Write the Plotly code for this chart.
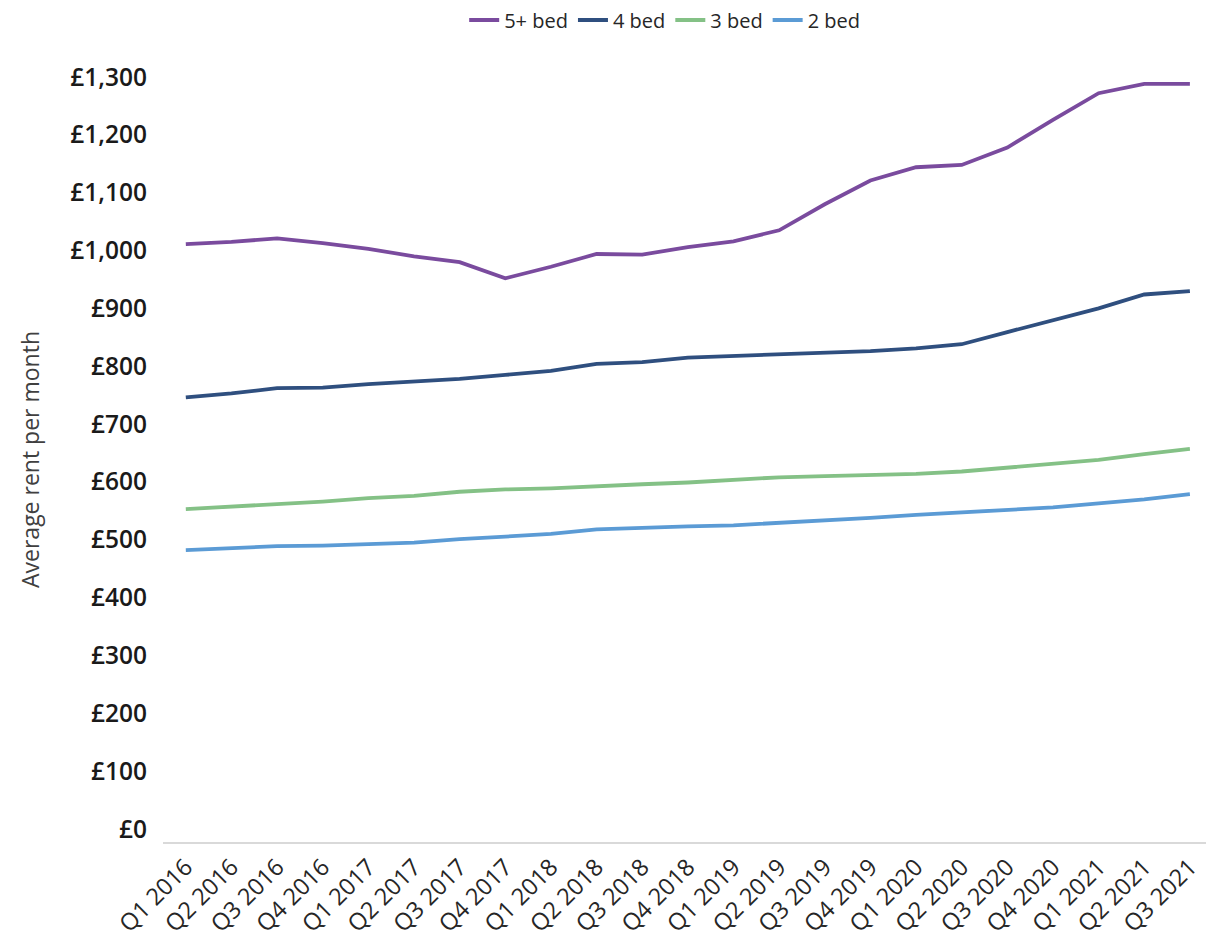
import plotly.graph_objects as go

quarters = ["Q1 2016", "Q2 2016", "Q3 2016", "Q4 2016",
            "Q1 2017", "Q2 2017", "Q3 2017", "Q4 2017",
            "Q1 2018", "Q2 2018", "Q3 2018", "Q4 2018",
            "Q1 2019", "Q2 2019", "Q3 2019", "Q4 2019",
            "Q1 2020", "Q2 2020", "Q3 2020", "Q4 2020",
            "Q1 2021", "Q2 2021", "Q3 2021"]

bed5 = [1011, 1015, 1021, 1013, 1003, 990, 980, 952, 972, 994, 993, 1006,
        1016, 1035, 1080, 1121, 1144, 1148, 1178, 1226, 1272, 1288, 1288]
bed4 = [746, 753, 762, 763, 769, 773, 778, 785, 792, 804, 807, 815,
        818, 820, 824, 826, 831, 838, 859, 879, 900, 924, 930]
bed3 = [553, 557, 561, 566, 572, 576, 583, 587, 589, 593, 596, 599,
        603, 608, 610, 612, 614, 618, 625, 631, 638, 648, 657]
bed2 = [482, 486, 489, 490, 492, 495, 501, 505, 510, 518, 521, 523,
        525, 529, 534, 538, 543, 547, 551, 556, 563, 570, 579]

series_names = ["5+ bed", "4 bed", "3 bed", "2 bed"]
series_values = [bed5, bed4, bed3, bed2]
colors = ["#7A4B9E", "#2F4F7F", "#84C186", "#5B9BD5"]

y_tick_vals = list(range(0, 1301, 100))
y_tick_text = ["£{:,}".format(v) for v in y_tick_vals]

fig = go.Figure()
for name, vals, col in zip(series_names, series_values, colors):
    fig.add_trace(go.Scatter(
        x=quarters, y=vals, name=name, mode="lines",
        line=dict(color=col, width=3.8),
    ))

FONT = "Open Sans"

fig.update_layout(
    width=1206, height=951,
    margin=dict(l=163, r=0, t=77, b=109),
    paper_bgcolor="white", plot_bgcolor="white",
    font=dict(family=FONT, color="#262626"),
    showlegend=True,
    legend=dict(
        orientation="h", x=0.481, xanchor="center",
        y=1.0745, yanchor="middle",
        font=dict(family=FONT, size=20, color="#262626"),
        itemwidth=30, tracegroupgap=0,
    ),
    xaxis=dict(
        type="category",
        range=[-0.5, 22.353],
        tickangle=-45,
        tickfont=dict(family=FONT, size=23.5, color="#262626"),
        showgrid=False, zeroline=False,
        showline=True, linecolor="#D9D9D9", linewidth=2,
        ticks="",
    ),
    yaxis=dict(
        range=[-22.5, 1300],
        tickvals=y_tick_vals, ticktext=y_tick_text,
        tickfont=dict(family=FONT, size=24.5, color="#1A1A1A", weight=600),
        showgrid=False, zeroline=False, showline=False,
        ticks="", ticklabelstandoff=15,
        title=dict(text="Average rent per month",
                   font=dict(family=FONT, size=23, color="#404040"),
                   standoff=24),
    ),
)

fig.write_html("out.html")
